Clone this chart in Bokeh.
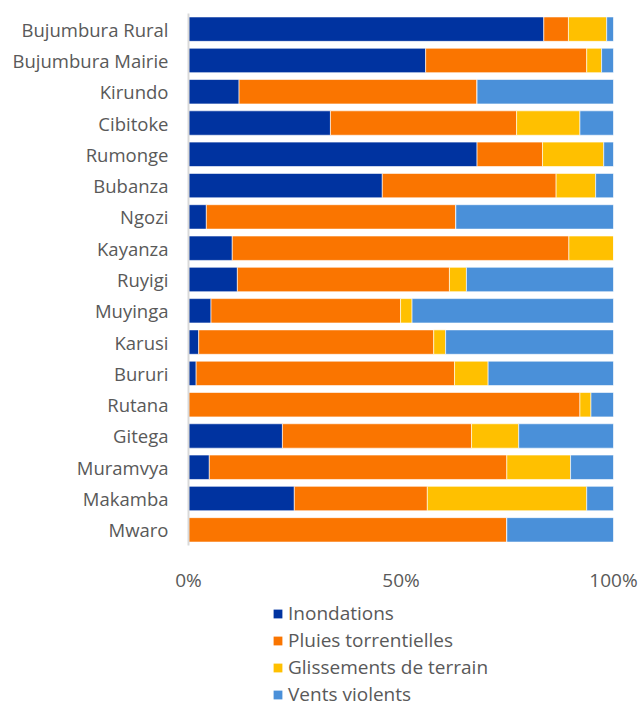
from bokeh.plotting import figure
from bokeh.layouts import column
from bokeh.models import FactorRange, Legend, LegendItem, FixedTicker, NumeralTickFormatter, Range1d
from bokeh.embed import file_html
from bokeh.resources import INLINE

provinces = ["Bujumbura Rural", "Bujumbura Mairie", "Kirundo", "Cibitoke", "Rumonge",
             "Bubanza", "Ngozi", "Kayanza", "Ruyigi", "Muyinga", "Karusi", "Bururi",
             "Rutana", "Gitega", "Muramvya", "Makamba", "Mwaro"]
inondations = [83.6, 55.8, 11.9, 33.4, 67.9, 45.6, 4.2, 10.3, 11.5, 5.3, 2.4, 1.8, 0.0, 22.1, 4.9, 24.9, 0.0]
pluies = [5.8, 37.9, 56.0, 43.8, 15.4, 40.9, 58.7, 79.2, 49.9, 44.6, 55.3, 60.8, 92.1, 44.5, 70.0, 31.3, 74.9]
glissements = [9.0, 3.5, 0.0, 14.9, 14.4, 9.3, 0.0, 10.5, 4.0, 2.7, 2.8, 7.9, 2.6, 11.1, 15.0, 37.5, 0.0]
vents = [1.6, 2.8, 32.1, 7.9, 2.3, 4.2, 37.1, 0.0, 34.6, 47.4, 39.5, 29.5, 5.3, 22.3, 10.1, 6.3, 25.1]
series_names = ["Inondations", "Pluies torrentielles", "Glissements de terrain", "Vents violents"]
colors = ["#0033A0", "#FA7500", "#FFC000", "#4A90D9"]
tick_values = [0, 0.5, 1.0]

# normalise to 100%
data = {"province": provinces}
keys = ["ino", "plu", "gli", "ven"]
for k, arr in zip(keys, [inondations, pluies, glissements, vents]):
    data[k] = arr
tot = [a + b + c + d for a, b, c, d in zip(inondations, pluies, glissements, vents)]
for k in keys:
    data[k] = [v / t for v, t in zip(data[k], tot)]

FONT = "Open Sans"
GREY = "#595959"

p = figure(width=642, height=600, output_backend="svg", toolbar_location=None,
           y_range=FactorRange(*reversed(provinces)), x_range=Range1d(0, 1),
           min_border_left=188, min_border_right=29, min_border_top=13, min_border_bottom=55)

renderers = p.hbar_stack(keys, y="province", height=0.78, color=colors, source=data,
                         line_color="white", line_width=0.6)

p.outline_line_color = None
p.background_fill_color = "white"
p.border_fill_color = "white"
p.grid.visible = False

p.xaxis.ticker = FixedTicker(ticks=tick_values)
p.xaxis.formatter = NumeralTickFormatter(format="0%")
p.xaxis.axis_line_color = None
p.xaxis.major_tick_line_color = None
p.xaxis.minor_tick_line_color = None
p.xaxis.major_tick_out = 0
p.xaxis.major_label_standoff = 21
p.xaxis.major_label_text_font = FONT
p.xaxis.major_label_text_font_size = "19px"
p.xaxis.major_label_text_color = GREY

p.yaxis.axis_line_color = "#D9D9D9"
p.yaxis.axis_line_width = 2
p.yaxis.major_tick_line_color = None
p.yaxis.minor_tick_line_color = None
p.yaxis.major_tick_out = 0
p.yaxis.major_label_standoff = 20
p.yaxis.major_label_text_font = FONT
p.yaxis.major_label_text_font_size = "18.5px"
p.yaxis.major_label_text_color = GREY

# legend figure (proxy glyphs outside the visible range)
p2 = figure(width=642, height=102, output_backend="svg", toolbar_location=None,
            x_range=Range1d(0, 1), y_range=Range1d(0, 1),
            x_axis_type=None, y_axis_type=None,
            min_border_left=188, min_border_right=29, min_border_top=0, min_border_bottom=0)
p2.outline_line_color = None
p2.grid.visible = False
proxies = [p2.quad(left=[5], right=[6], bottom=[5], top=[6], fill_color=c, line_color=None)
           for c in colors]
legend = Legend(items=[LegendItem(label=n, renderers=[r]) for n, r in zip(series_names, proxies)],
                location=(84, -5), orientation="vertical",
                glyph_width=11, glyph_height=11, label_height=20, spacing=1,
                label_standoff=5, padding=0, margin=0, border_line_color=None,
                background_fill_alpha=0,
                label_text_font=FONT, label_text_font_size="19px", label_text_color=GREY)
p2.add_layout(legend, "center")

layout = column(p, p2, spacing=0)
open("out.html", "w").write(file_html(layout, INLINE))
